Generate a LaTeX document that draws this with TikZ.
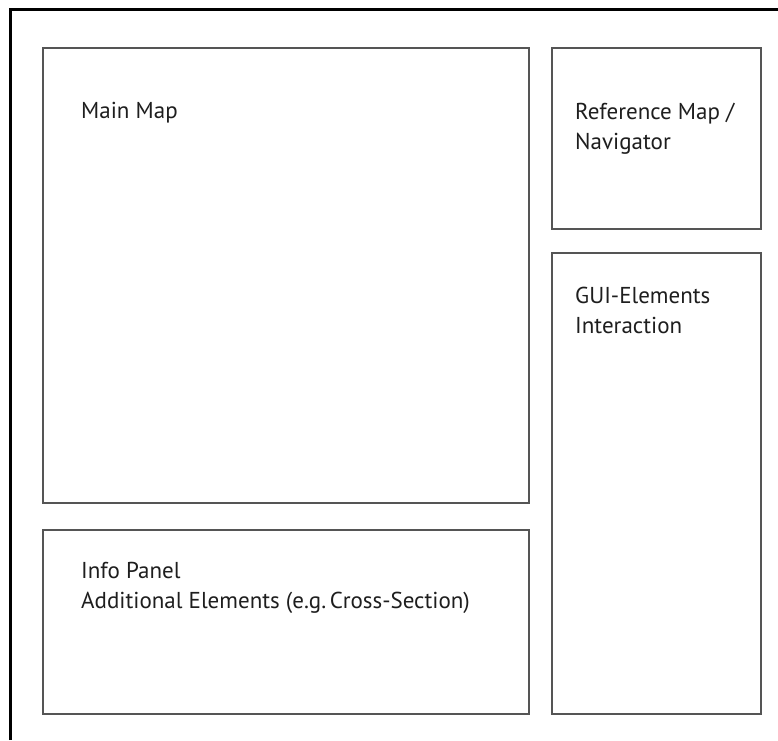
\documentclass[tikz,border=0pt]{standalone}
\usepackage{fontspec}
\setmainfont{PT Sans}
\usepackage{xcolor}
\definecolor{panelgray}{RGB}{85, 85, 85}
\definecolor{labelink}{RGB}{30, 30, 30}

\begin{document}
\begin{tikzpicture}[x=1pt, y=-1pt,
    panel/.style={panelgray, line width=2pt},
    frame/.style={black, line width=3pt},
    paneltext/.style={labelink, anchor=base west, inner sep=0pt, align=left,
                      font=\fontsize{23}{30}\selectfont}]
    \useasboundingbox (0,0) rectangle (778,740);
    \fill[white] (0,0) rectangle (778,740);

    % outer window, only top and left edges show
    \draw[frame] (10.8,740) -- (10.8,9.5) -- (778,9.5);

    % panels
    \draw[panel] ( 43, 48) rectangle (529,503);
    \draw[panel] ( 43,530) rectangle (529,714);
    \draw[panel] (552, 48) rectangle (761,229);
    \draw[panel] (552,253) rectangle (761,714);

    % labels (base anchor sits on the last line)
    \node[paneltext] (mainmap)   at ( 81,118) {Main Map};
    \node[paneltext] (refmap)    at (575,149) {Reference Map /\\Navigator};
    \node[paneltext] (gui)       at (575,333) {GUI-Elements\\Interaction};
    \node[paneltext] (infopanel) at ( 81,608) {Info Panel\\Additional Elements (e.g.\,Cross-Section)};
\end{tikzpicture}
\end{document}
